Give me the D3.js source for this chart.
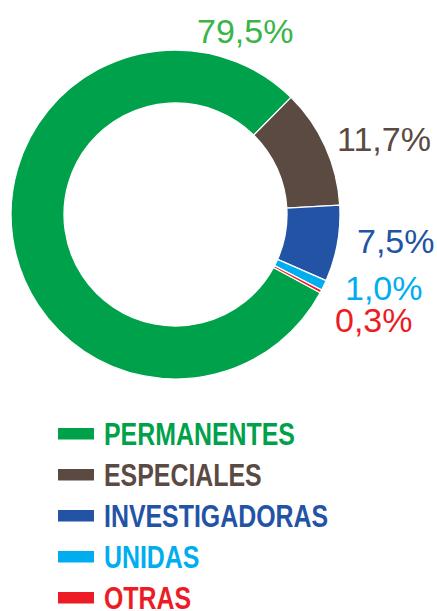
<!DOCTYPE html>
<html><head><meta charset="utf-8">
<script src="https://cdn.jsdelivr.net/npm/d3@7"></script>
<style>html,body{margin:0;padding:0;background:#fff;}svg{display:block;}</style>
</head><body>
<svg id="chart" width="437" height="611"></svg>
<script>
const categories = ["PERMANENTES", "ESPECIALES", "INVESTIGADORAS", "UNIDAS", "OTRAS"];
const values = [79.5, 11.7, 7.5, 1.0, 0.3];
const valueLabels = ["79,5%", "11,7%", "7,5%", "1,0%", "0,3%"];
const sliceColors = ["#00a14b", "#5b4a42", "#2353a5", "#00aeef", "#ed1c24"];
const labelColors = ["#39b54a", "#5b4a42", "#2353a5", "#00aeef", "#ed1c24"];

const svg = d3.select("#chart");
const cx = 175.5, cy = 214.5, rOuter = 164.5, rInner = 111.5;
const startDeg = 118.4;

const pie = d3.pie().sort(null).value(d => d)
  .startAngle(startDeg * Math.PI / 180)
  .endAngle((startDeg + 360) * Math.PI / 180);
const arcs = pie(values);
const arc = d3.arc().innerRadius(rInner).outerRadius(rOuter);

const g = svg.append("g").attr("transform", `translate(${cx},${cy})`);
g.selectAll("path").data(arcs).enter().append("path")
  .attr("d", arc)
  .attr("fill", (d, i) => sliceColors[i])
  .attr("stroke", "#fff")
  .attr("stroke-width", 1.3)
  .attr("stroke-linejoin", "miter");

// value labels
const labelPos = [
  {x: 197, y: 43},
  {x: 337, y: 151},
  {x: 357, y: 253},
  {x: 345, y: 300},
  {x: 335, y: 332}
];
svg.selectAll("text.val").data(valueLabels).enter().append("text")
  .attr("class", "val")
  .attr("x", (d, i) => labelPos[i].x)
  .attr("y", (d, i) => labelPos[i].y)
  .attr("fill", (d, i) => labelColors[i])
  .style("font-family", "'Liberation Sans', Arial, sans-serif")
  .style("font-size", "34px")
  .text(d => d);

// legend
const legendY = d3.scalePoint().domain(categories).range([433.5, 597.5]);
const leg = svg.selectAll("g.leg").data(categories).enter().append("g")
  .attr("class", "leg")
  .attr("transform", d => `translate(0,${legendY(d)})`);
leg.append("rect")
  .attr("x", 58).attr("y", -5.5).attr("width", 36).attr("height", 11.5)
  .attr("fill", (d, i) => sliceColors[i]);
const legText = leg.append("g").attr("transform", "translate(104,0)")
  .append("text")
  .attr("x", 0).attr("y", 11)
  .attr("fill", (d, i) => sliceColors[i])
  .style("font-family", "'Liberation Sans', Arial, sans-serif")
  .style("font-weight", "bold")
  .style("font-size", "30.5px")
  .text(d => d);
// horizontally condense to match the narrow typeface
const w0 = legText.nodes()[0].getComputedTextLength();
const sx = 191 / w0;
legText.attr("transform", `scale(${sx},1)`);
</script>
</body></html>
